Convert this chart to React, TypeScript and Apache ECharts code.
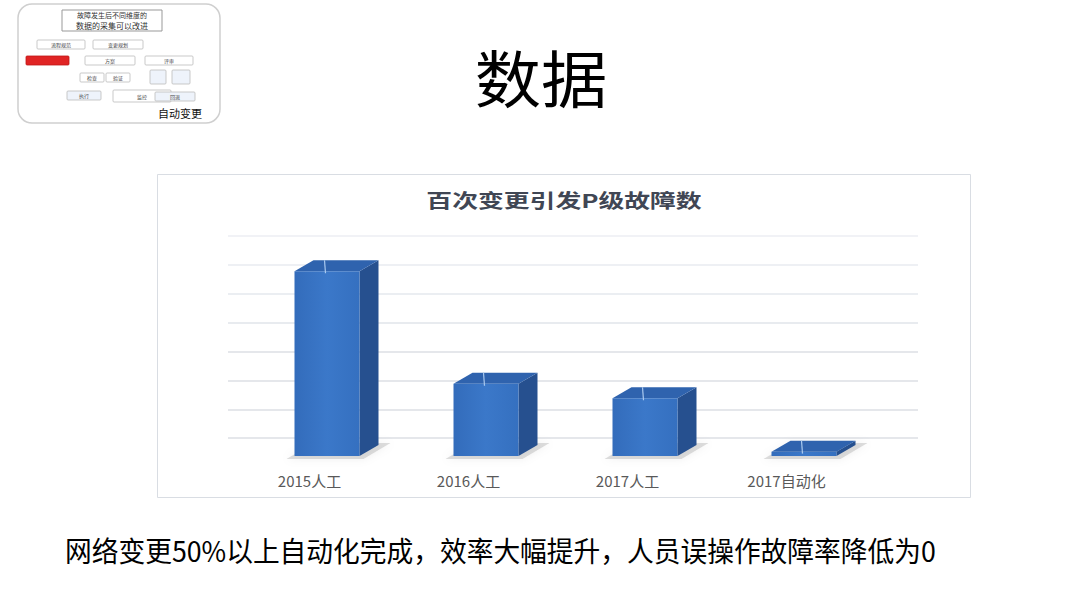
import React, { useEffect, useRef } from "react";
import * as echarts from "echarts";

const categories = ["2015人工", "2016人工", "2017人工", "2017自动化"];
const faultCounts = [6.4, 2.5, 2.0, 0.15];
const yTicks = { min: 0, max: 8, interval: 1 };
const slideTitle = "数据";
const chartTitle = "百次变更引发P级故障数";
const footnote = "网络变更50%以上自动化完成，效率大幅提升，人员误操作故障率降低为0";

const thumbBoxes = [
  { x: 37, y: 40, w: 48, h: 9, fill: "#fff", stroke: "#bbb", text: "流程规范" },
  { x: 93, y: 40, w: 50, h: 9, fill: "#fff", stroke: "#bbb", text: "变更规划" },
  { x: 26, y: 56, w: 43, h: 9, fill: "#e02424", stroke: "#c01818", text: "" },
  { x: 85, y: 56, w: 50, h: 9, fill: "#fff", stroke: "#bbb", text: "方案" },
  { x: 145, y: 56, w: 48, h: 9, fill: "#fff", stroke: "#bbb", text: "评审" },
  { x: 80, y: 73, w: 24, h: 9, fill: "#fff", stroke: "#bbb", text: "检查" },
  { x: 106, y: 73, w: 24, h: 9, fill: "#fff", stroke: "#bbb", text: "验证" },
  { x: 150, y: 70, w: 16, h: 14, fill: "#eef3fb", stroke: "#bbb", text: "" },
  { x: 172, y: 70, w: 18, h: 14, fill: "#eef3fb", stroke: "#bbb", text: "" },
  { x: 67, y: 91, w: 34, h: 9, fill: "#eef3fb", stroke: "#bbb", text: "执行" },
  { x: 113, y: 90, w: 58, h: 12, fill: "#fff", stroke: "#bbb", text: "监控" },
  { x: 155, y: 92, w: 40, h: 9, fill: "#eef3fb", stroke: "#bbb", text: "回退" },
];

export default function App() {
  const ref = useRef<HTMLDivElement>(null);
  useEffect(() => {
    if (!ref.current) return;
    const chart = echarts.init(ref.current, null, { renderer: "svg" });
    const gridColors = ["rgba(0,0,0,0)", "#dcdfe5", "#dcdfe5", "#dcdfe5", "#dcdfe5", "#e1e4ea", "#e5e8ee", "#e9ebf0", "#eceef3"];

    const thumb: any[] = [
      { type: "rect", shape: { x: 18, y: 4, width: 202, height: 119, r: 14 }, style: { fill: "#fff", stroke: "#cfcfcf", lineWidth: 1.5 } },
      { type: "rect", shape: { x: 62, y: 10, width: 100, height: 21 }, style: { fill: "#fff", stroke: "#999", lineWidth: 1 } },
      { type: "text", x: 112, y: 15, style: { text: "故障发生后不同维度的", fontSize: 7, fill: "#333", align: "center", verticalAlign: "middle", fontFamily: "Noto Sans CJK SC" } },
      { type: "text", x: 112, y: 25, style: { text: "数据的采集可以改进", fontSize: 8, fill: "#333", align: "center", verticalAlign: "middle", fontFamily: "Noto Sans CJK SC" } },
      { type: "text", x: 180, y: 113, style: { text: "自动变更", fontSize: 11, fill: "#111", align: "center", verticalAlign: "middle", fontFamily: "Noto Sans CJK SC" } },
    ];
    thumbBoxes.forEach((b) => {
      thumb.push({ type: "rect", shape: { x: b.x, y: b.y, width: b.w, height: b.h, r: 1 }, style: { fill: b.fill, stroke: b.stroke, lineWidth: 0.8 } });
      if (b.text) {
        thumb.push({ type: "text", x: b.x + b.w / 2, y: b.y + b.h / 2, style: { text: b.text, fontSize: 5, fill: "#444", align: "center", verticalAlign: "middle", fontFamily: "Noto Sans CJK SC" } });
      }
    });

    const option: any = {
      animation: false,
      backgroundColor: "#ffffff",
      graphic: [
        ...thumb,
        { type: "text", x: 541, y: 76, scaleX: 1.07, style: { text: slideTitle, fontSize: 62, fill: "#000", align: "center", verticalAlign: "middle", fontFamily: "Noto Sans CJK SC" } },
        { type: "rect", shape: { x: 157.5, y: 174.5, width: 813, height: 323 }, style: { fill: "none", stroke: "#d9dde3", lineWidth: 1 }, z: -1 },
        { type: "text", x: 564, y: 200, scaleX: 1.36, style: { text: chartTitle, fontSize: 19, fontWeight: "bold", fill: "#404654", align: "center", verticalAlign: "middle", fontFamily: "Noto Sans CJK SC" } },
        { type: "text", x: 65, y: 550, scaleX: 0.955, style: { text: footnote, fontSize: 28, fill: "#000", align: "left", verticalAlign: "middle", fontFamily: "Noto Sans CJK SC" } },
      ],
      grid: [
        { left: 228, right: 162, top: 236, bottom: 141 },
        { left: 230, right: 214, top: 236, bottom: 141 },
      ],
      xAxis: [
        { gridIndex: 0, type: "category", data: categories, show: false },
        {
          gridIndex: 1,
          type: "category",
          data: categories,
          axisLine: { show: false },
          axisTick: { show: false },
          axisLabel: { color: "#595959", fontSize: 15, margin: 6, fontFamily: "Noto Sans CJK SC" },
        },
      ],
      yAxis: [
        {
          gridIndex: 0,
          type: "value",
          ...yTicks,
          axisLine: { show: false },
          axisTick: { show: false },
          axisLabel: { show: false },
          splitLine: { show: true, lineStyle: { color: gridColors, width: 1.5 } },
        },
        { gridIndex: 1, type: "value", ...yTicks, show: false, splitLine: { show: false } },
      ],
      series: [
        {
          type: "custom",
          xAxisIndex: 1,
          yAxisIndex: 1,
          data: faultCounts.map((v, i) => [i, v]),
          renderItem: (params: any, api: any) => {
            const i = api.value(0);
            const v = api.value(1);
            const base = api.coord([i, 0]);
            const top = api.coord([i, v]);
            const xl = base[0] - 15;
            const xr = base[0] + 50;
            const yb = base[1] - 11;
            const yt = top[1] - 11;
            const dx = 19;
            const dy = -11;
            return {
              type: "group",
              children: [
                {
                  type: "polygon",
                  shape: { points: [[xl - 8, yb + 3], [xr + 4, yb + 3], [xr + dx + 12, yb + dy - 2], [xl + dx, yb + dy - 2]] },
                  style: { fill: "rgba(120,120,120,0.25)", shadowBlur: 8, shadowColor: "rgba(0,0,0,0.25)" },
                },
                {
                  type: "polygon",
                  shape: { points: [[xr, yt], [xr + dx, yt + dy], [xr + dx, yb + dy], [xr, yb]] },
                  style: { fill: "#26508f" },
                },
                {
                  type: "polygon",
                  shape: { points: [[xl, yt], [xl + dx, yt + dy], [xr + dx, yt + dy], [xr, yt]] },
                  style: { fill: "#2f63ae" },
                },
                {
                  type: "polygon",
                  shape: { points: [[xl, yt], [xr, yt], [xr, yb], [xl, yb]] },
                  style: {
                    fill: new echarts.graphic.LinearGradient(0, 0, 1, 0, [
                      { offset: 0, color: "#336cbb" },
                      { offset: 0.5, color: "#3b78c9" },
                      { offset: 1, color: "#3570c0" },
                    ]),
                  },
                },
                {
                  type: "line",
                  shape: { x1: xl + 31, y1: yt + 2, x2: xl + 30, y2: yt + dy },
                  style: { stroke: "#a9c9ef", lineWidth: 1.2 },
                },
              ],
            };
          },
        },
      ],
    };
    chart.setOption(option);
    return () => chart.dispose();
  }, []);
  return (
    <div
      ref={ref}
      style={{ position: "absolute", left: 0, top: 0, width: 1080, height: 608, background: "#fff" }}
    />
  );
}
